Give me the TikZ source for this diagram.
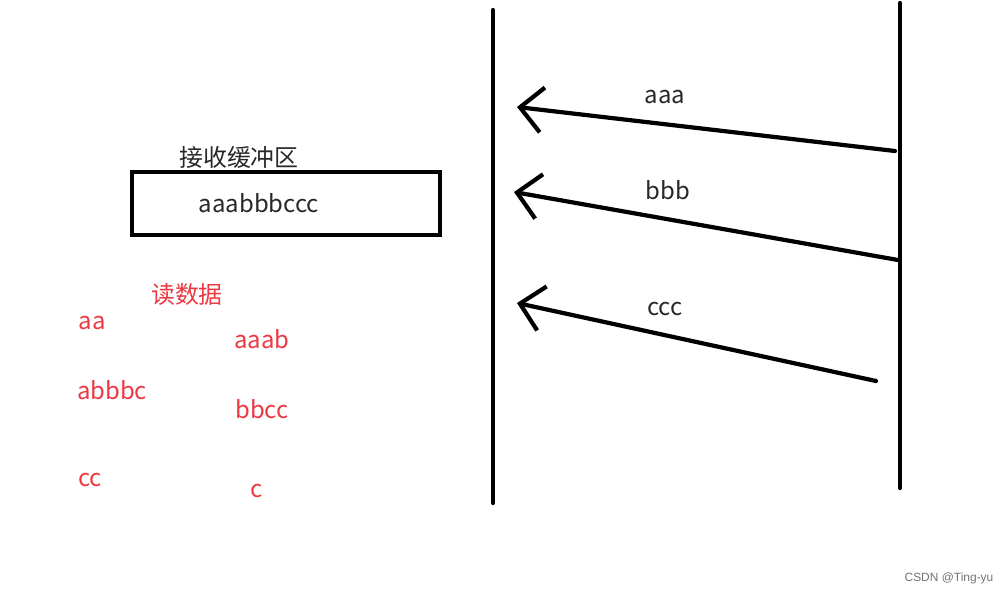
\documentclass[tikz,border=0pt]{standalone}
\usepackage{fontspec}
\newfontfamily\cjk{Noto Sans CJK SC}
\newfontfamily\wmfont{Liberation Sans}
\usepackage{tikz}
\usetikzlibrary{arrows.meta, positioning}

\definecolor{readred}{RGB}{236,56,64}
\definecolor{msggray}{RGB}{40,40,40}

\begin{document}
\begin{tikzpicture}[
    x=0.025cm, y=-0.025cm,
    every node/.style={inner sep=0pt, font=\cjk\fontsize{17}{20}\selectfont},
    wall/.style={line width=3pt, line cap=round},
    msg/.style={line width=3pt, line cap=round, line join=round,
      -{Straight Barb[length=16pt, width=32pt, line width=3pt]}},
    msglabel/.style={text=msggray},
    readlabel/.style={text=readred}
  ]
  \useasboundingbox (0,0) rectangle (1008,595);

  % Two ends of the connection
  \coordinate (recvtop) at (493,10);
  \coordinate (recvbot) at (493,503);
  \coordinate (sendtop) at (900,3);
  \coordinate (sendbot) at (900,488);
  \draw[wall] (recvtop) -- (recvbot);
  \draw[wall] (sendtop) -- (sendbot);

  % Segments sent from right to left
  \coordinate (s1) at (895,151);
  \coordinate (r1) at (517,107);
  \coordinate (s2) at (898,260);
  \coordinate (r2) at (514,192);
  \coordinate (s3) at (876,381);
  \coordinate (r3) at (517,303);
  \draw[msg] (s1) -- (r1);
  \draw[msg] (s2) -- (r2);
  \draw[msg] (s3) -- (r3);
  \node[msglabel] (laaa) at (665,97) {aaa};
  \node[msglabel] (lbbb) at (668,190) {bbb};
  \node[msglabel] (lccc) at (665,309) {ccc};

  % Receive buffer
  \node[draw=black, line width=3pt, minimum width=7.7cm, minimum height=1.575cm]
    (buffer) at (286,203.5) {};
  \node[msglabel] (bufdata) at (259,203) {aaabbbccc};
  \node[msglabel] (buftitle) at (239,157) {接收缓冲区};

  % Reads by the application
  \node[readlabel] (readtitle) at (187,294) {读数据};
  \node[readlabel] (rd1) at (92,323) {aa};
  \node[readlabel] (rd2) at (112,390) {abbbc};
  \node[readlabel] (rd3) at (90,480) {cc};
  \node[readlabel] (rd4) at (262,339) {aaab};
  \node[readlabel] (rd5) at (262,409) {bbcc};
  \node[readlabel] (rd6) at (257,491) {c};

  \node[font=\wmfont\fontsize{8.5}{10}\selectfont, text=black!55] (mark) at (949,578) {CSDN @Ting-yu};
\end{tikzpicture}
\end{document}
